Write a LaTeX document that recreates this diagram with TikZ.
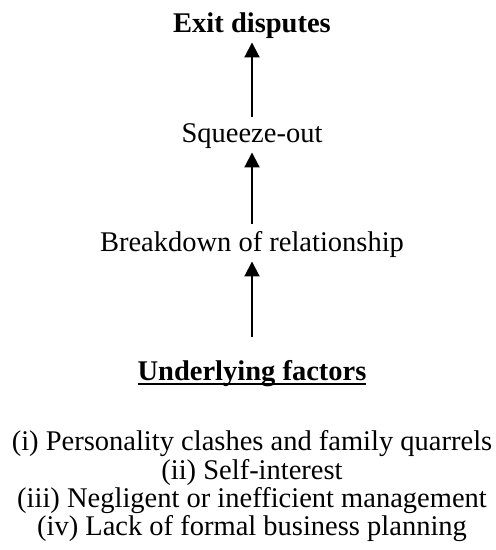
\documentclass[tikz,border=0pt]{standalone}
\usepackage{fontspec}
\setmainfont{Liberation Serif}
\usetikzlibrary{arrows.meta}
\newcommand\myuline[1]{\setbox0\hbox{#1}\rlap{\rule[-2.4pt]{\wd0}{1.1pt}}\box0}
\begin{document}
\begin{tikzpicture}[x=0.5pt,y=-0.5pt,
  lbl/.style={anchor=base,inner sep=0pt,font=\fontsize{14.25}{14}\selectfont},
  arr/.style={line width=1pt,-{Triangle[length=7.5pt,width=7.5pt]}}]
\useasboundingbox (0,0) rectangle (495,550);
\node[lbl,font=\fontsize{14.25}{14}\selectfont\bfseries] (exit) at (252,33) {Exit disputes};
\node[lbl] (sq) at (252,143) {Squeeze-out};
\node[lbl] (bd) at (252,252) {Breakdown of relationship};
\node[lbl,font=\fontsize{14.25}{14}\selectfont\bfseries] (uf) at (252,380) {\myuline{Underlying factors}};
\node[lbl] (f1) at (252,450) {(i) Personality clashes and family quarrels};
\node[lbl] (f2) at (252,479) {(ii) Self-interest};
\node[lbl] (f3) at (252,507) {(iii) Negligent or inefficient management};
\node[lbl] (f4) at (252,535) {(iv) Lack of formal business planning};
\draw[arr] ([yshift=3.5pt]sq.north) -- ([yshift=-1.5pt]exit.south);
\draw[arr] ([yshift=4pt]bd.north) -- ([yshift=-1.5pt]sq.south);
\draw[arr] ([yshift=11.5pt]uf.north) -- ([yshift=-1.5pt]bd.south);
\end{tikzpicture}
\end{document}
